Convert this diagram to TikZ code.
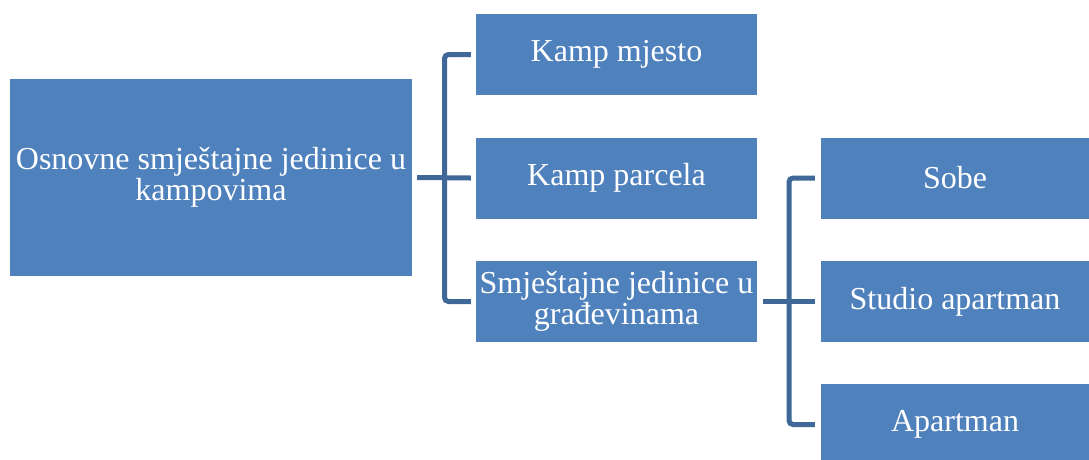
\documentclass[tikz,border=0pt]{standalone}
\usepackage{fontspec}
\setmainfont{Liberation Serif}
\definecolor{boxblue}{HTML}{4F81BD}
\definecolor{linkblue}{HTML}{3F6797}
\begin{document}
\begin{tikzpicture}[x=1pt,y=-1pt,
  box/.style={draw=none, fill=boxblue, text=white, align=center, inner sep=2pt,
    font=\fontsize{32}{31.5}\selectfont},
  conn/.style={draw=linkblue, line width=5pt, rounded corners=4pt}]
\useasboundingbox (0,0) rectangle (1089,459);
\clip (0,0) rectangle (1089,459);
\node[box, minimum width=402pt, minimum height=197pt] (root) at (211,177.5)
  {Osnovne smještajne jedinice u\\kampovima};
\node[box, minimum width=281pt, minimum height=81pt] (k1) at (616.5,54.5) {Kamp mjesto};
\node[box, minimum width=281pt, minimum height=81pt] (k2) at (616.5,178) {Kamp parcela};
\node[box, minimum width=281pt, minimum height=81pt] (k3) at (616.5,301.5) {Smještajne jedinice u\\građevinama};
\node[box, minimum width=268pt, minimum height=81pt] (s1) at (955,178) {Sobe};
\node[box, minimum width=268pt, minimum height=81pt] (s2) at (955,301.5) {Studio apartman};
\node[box, minimum width=268pt, minimum height=81pt] (s3) at (955,424.5) {Apartman};
% bracket 1
\coordinate (st1) at (444.5,0);
\draw[conn] ([xshift=-5pt]k1.west) -| (st1 |- k3.west) -- ([xshift=-5pt]k3.west);
\draw[conn, rounded corners=0pt] ([xshift=5pt]root.east) -- ([xshift=-5pt]k2.west);
% bracket 2
\coordinate (st2) at (789,0);
\draw[conn] ([xshift=-6pt]s1.west) -| (st2 |- s3.west) -- ([xshift=-6pt]s3.west);
\draw[conn, rounded corners=0pt] ([xshift=6pt]k3.east) -- ([xshift=-6pt]s2.west);
\end{tikzpicture}
\end{document}
